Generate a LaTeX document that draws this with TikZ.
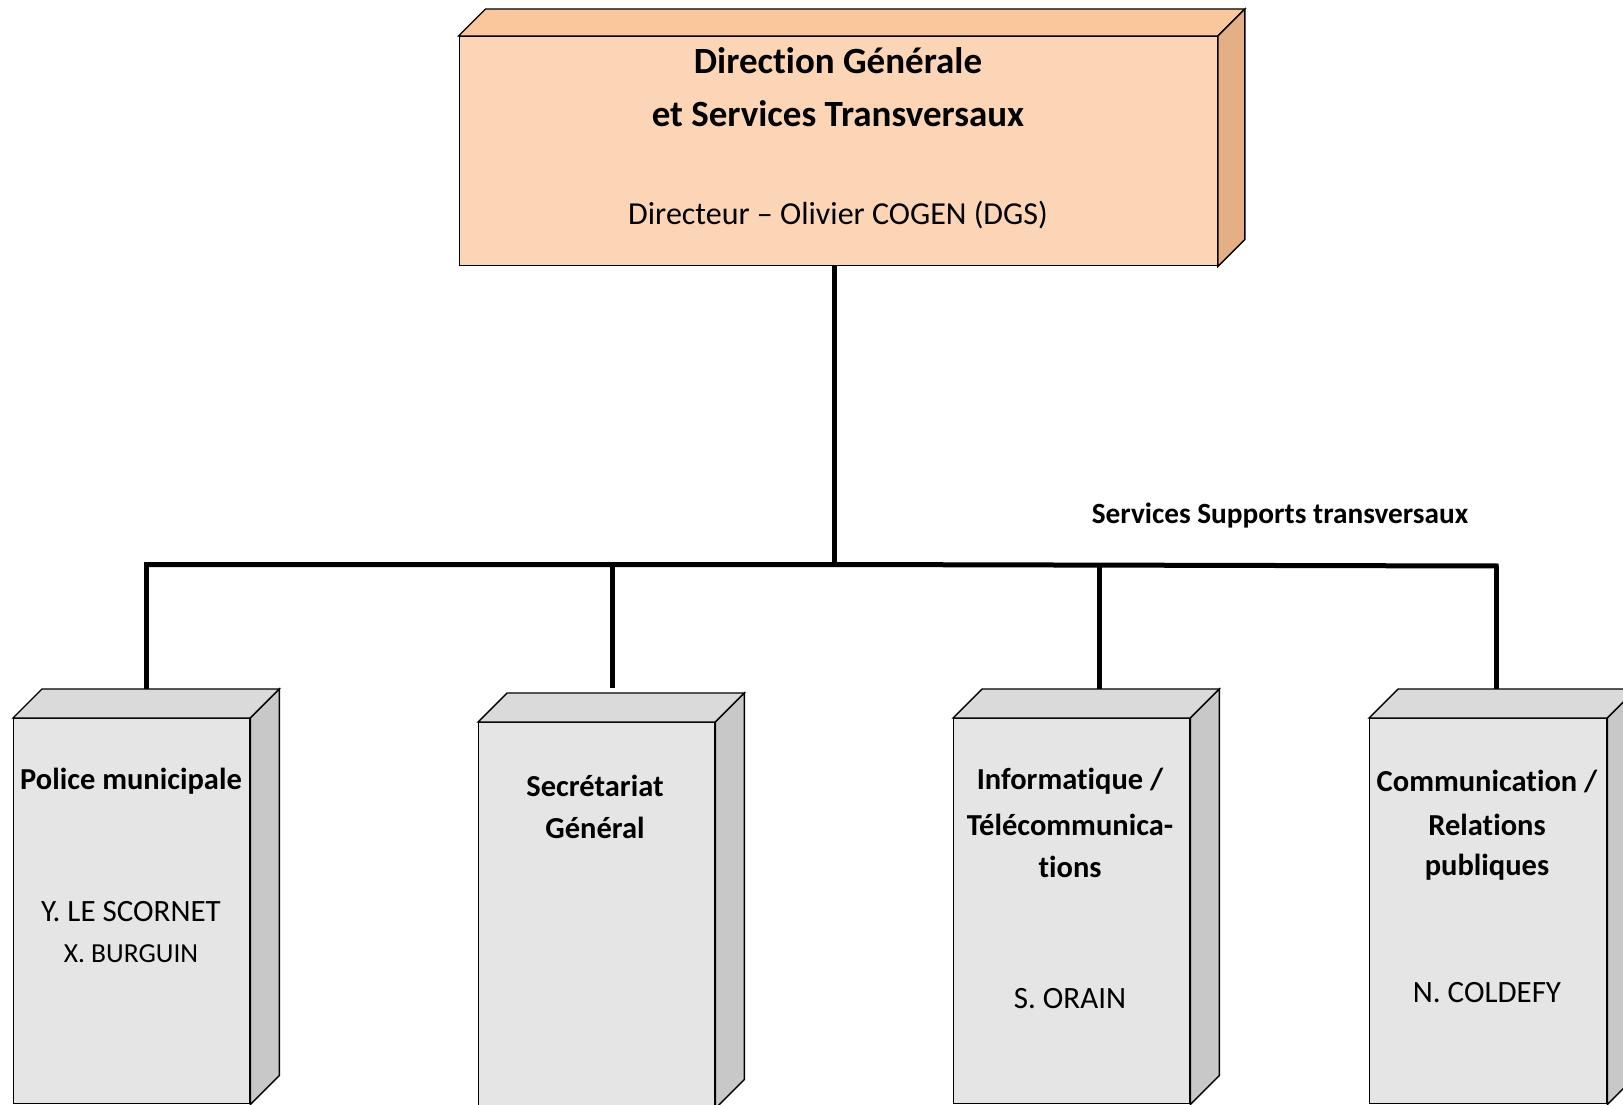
\documentclass[tikz,border=0pt]{standalone}
\usepackage{fontspec}
\setmainfont{Carlito}[RawFeature={-liga;-clig;-dlig;-calt}]
\usetikzlibrary{calc}
\definecolor{peach}{RGB}{251,213,181}
\definecolor{peachtop}{RGB}{250,199,156}
\definecolor{peachside}{RGB}{229,175,134}
\definecolor{greyfront}{RGB}{229,229,229}
\definecolor{greytop}{RGB}{218,218,218}
\definecolor{greyside}{RGB}{200,200,200}
\tikzset{
  face/.style={draw=black, line width=1.4pt, line join=miter},
  frontbox/.style={face, rectangle, inner sep=0pt, anchor=north west},
  link/.style={draw=black, line width=5pt},
  titleb/.style={font=\bfseries\fontsize{30.5}{36}\selectfont, inner sep=0pt},
  namet/.style={font=\fontsize{31}{36}\selectfont, inner sep=0pt},
}
\newcommand{\boxfaces}[4]{% name, depth, topcolor, sidecolor
  \draw[face, fill=#3] (#1.north west) -- ++(#2,-#2) -- ($(#1.north east)+(#2,-#2)$) -- (#1.north east) -- cycle;
  \draw[face, fill=#4] (#1.north east) -- ++(#2,-#2) -- ($(#1.south east)+(#2,-#2)$) -- (#1.south east) -- cycle;
}
\begin{document}
\begin{tikzpicture}[x=1pt,y=-1pt]
\useasboundingbox[fill=white] (0,0) rectangle (1623,1105);
% top box
\node[frontbox, fill=peach, minimum width=758pt, minimum height=229pt] (dg) at (458.5,36) {};
\boxfaces{dg}{27}{peachtop}{peachside}
\node[font=\bfseries\fontsize{37}{44}\selectfont, inner sep=0pt] (dg1) at (838,61) {Direction Générale};
\node[font=\bfseries\fontsize{37}{44}\selectfont, inner sep=0pt] (dg2) at (838,114) {et Services Transversaux};
\node[font=\fontsize{32}{38}\selectfont, inner sep=0pt] (dg3) at (838,215) {Directeur – Olivier COGEN (DGS)};
% bottom boxes
\node[frontbox, fill=greyfront, minimum width=236pt, minimum height=385pt] (pm) at (13,718) {};
\boxfaces{pm}{29}{greytop}{greyside}
\node[frontbox, fill=greyfront, minimum width=236pt, minimum height=385pt] (sg) at (478,722) {};
\boxfaces{sg}{29}{greytop}{greyside}
\node[frontbox, fill=greyfront, minimum width=236pt, minimum height=385pt] (it) at (953,718) {};
\boxfaces{it}{29}{greytop}{greyside}
\node[frontbox, fill=greyfront, minimum width=237pt, minimum height=385pt] (cr) at (1369,718) {};
\boxfaces{cr}{29}{greytop}{greyside}
% texts of bottom boxes
\node[titleb] (pm1) at (131,781) {Police municipale};
\node[namet] (pm2) at (131,912) {Y. LE SCORNET};
\node[font=\fontsize{27.5}{32}\selectfont, inner sep=0pt] (pm3) at (131,954) {X. BURGUIN};
\node[titleb] (sg1) at (595,786) {Secrétariat};
\node[titleb] (sg2) at (595,828) {Général};
\node[titleb] (it1) at (1070,781) {Informatique /};
\node[titleb] (it2) at (1070,825) {Télécommunica-};
\node[titleb] (it3) at (1070,867) {tions};
\node[namet] (it4) at (1070,999) {S. ORAIN};
\node[titleb] (cr1) at (1487,781) {Communication /};
\node[titleb] (cr2) at (1487,825) {Relations};
\node[titleb] (cr3) at (1487,867) {publiques};
\node[namet] (cr4) at (1487,993) {N. COLDEFY};
\node[font=\bfseries\fontsize{29.3}{34}\selectfont, inner sep=0pt] (ss) at (1280,516) {Services Supports transversaux};
% connectors
\coordinate (j) at (834,564.5);
\coordinate (jl) at (146.5,564.5);
\coordinate (jr) at (1496,566);
\coordinate (j1) at (146.5,564.5);
\coordinate (j2) at (612,564.5);
\coordinate (j3) at (1099,565.5);
\coordinate (j4) at (1496,566);
\coordinate (e1) at (146.5,689);
\coordinate (e2) at (612,688);
\coordinate (e3) at (1099,689);
\coordinate (e4) at (1496,689);
\draw[link] (dg.south -| j) -- (j);
\draw[link, line cap=butt] ($(jl)+(-2.5,0)$) -- (j) -- ($(jr)+(2.5,0)$);
\draw[link] (j1) -- (e1);
\draw[link] (j2) -- (e2);
\draw[link] (j3) -- (e3);
\draw[link] (j4) -- (e4);
\end{tikzpicture}
\end{document}
